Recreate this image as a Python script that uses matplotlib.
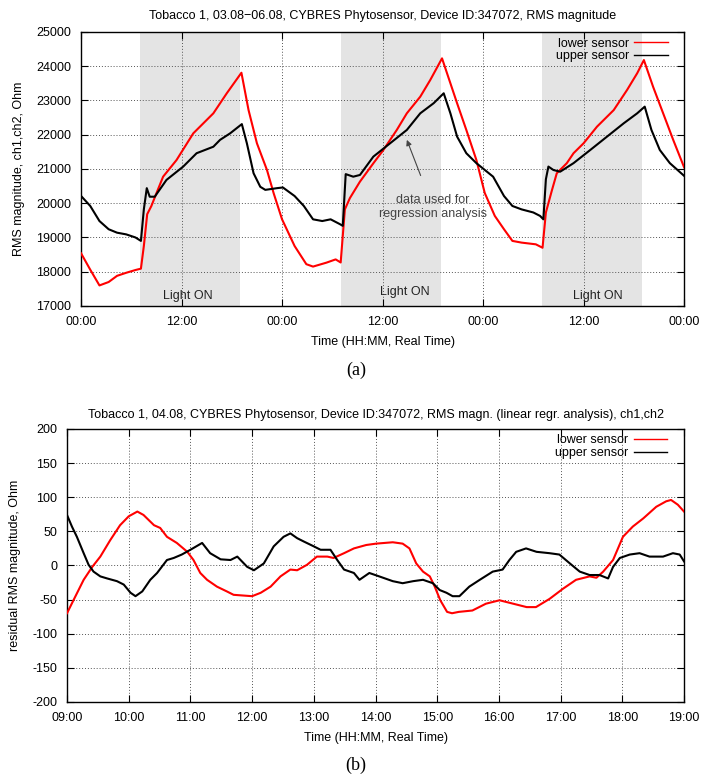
import matplotlib

matplotlib.use("Agg")
import matplotlib.pyplot as plt
from matplotlib.lines import Line2D

plt.rcParams["font.family"] = ["Liberation Sans", "DejaVu Sans"]
plt.rcParams["font.size"] = 9
plt.rcParams["axes.unicode_minus"] = False

# ---- panel (a): 03.08-06.08, hours since 03.08 00:00 ----
lower_t = [0.0, 1.1, 2.2, 3.3, 4.3, 5.4, 6.5, 7.15, 7.5, 7.9, 8.4, 9.0, 9.8,
           11.4, 13.4, 15.8, 17.4, 19.15, 20.0, 21.0, 22.2, 23.0, 24.0, 25.5,
           26.9, 27.7, 29.3, 30.4, 31.0, 31.5, 32.1, 33.3, 34.9, 36.1, 37.7,
           38.9, 40.5, 41.7, 43.1, 44.9, 46.0, 47.2, 48.2, 49.4, 50.5, 51.5,
           52.6, 54.3, 55.1, 55.5, 56.2, 56.8, 58.0, 58.8, 60.0, 61.6, 63.6,
           65.2, 66.4, 67.2, 68.3, 69.5, 70.7, 72.0]
lower_v = [18540, 18060, 17600, 17700, 17880, 17970, 18050, 18090, 18750,
           19680, 19920, 20290, 20775, 21260, 22040, 22625, 23210, 23810,
           22720, 21750, 20970, 20290, 19530, 18750, 18220, 18150, 18265,
           18360, 18270, 19820, 20150, 20630, 21166, 21555, 22140, 22626,
           23110, 23600, 24230, 22918, 22140, 21263, 20300, 19630, 19240,
           18900, 18850, 18800, 18700, 19730, 20360, 20875, 21170, 21460,
           21750, 22235, 22720, 23310, 23795, 24180, 23400, 22625, 21850,
           21050]

upper_t = [0.0, 1.1, 2.2, 3.3, 4.3, 5.4, 6.5, 7.15, 7.5, 7.85, 8.2, 8.8,
           10.2, 12.2, 13.8, 15.8, 16.6, 17.8, 19.2, 19.8, 20.6, 21.4, 22.0,
           23.4, 24.1, 25.5, 26.6, 27.7, 28.8, 29.8, 30.9, 31.25, 31.6, 32.5,
           33.3, 34.9, 36.9, 38.9, 40.5, 42.1, 43.3, 44.1, 44.9, 46.0, 47.2,
           49.2, 50.5, 51.5, 52.6, 54.0, 54.8, 55.2, 55.5, 55.8, 56.4, 57.2,
           58.8, 60.8, 62.8, 64.8, 66.4, 67.3, 68.1, 69.1, 70.3, 72.0]
upper_v = [20213, 19920, 19480, 19240, 19140, 19090, 19000, 18900, 19820,
           20440, 20190, 20190, 20680, 21070, 21460, 21650, 21850, 22040,
           22310, 21750, 20875, 20480, 20390, 20440, 20460, 20210, 19920,
           19530, 19480, 19530, 19390, 19340, 20850, 20775, 20825, 21360,
           21750, 22140, 22625, 22920, 23210, 22625, 21945, 21460, 21170,
           20775, 20210, 19920, 19820, 19730, 19630, 19530, 20700, 21070,
           20970, 20920, 21170, 21555, 21945, 22335, 22625, 22820, 22140,
           21555, 21170, 20800]

light_on = [(7, 19), (31, 43), (55, 67)]
light_label_pos = [(12.8, 17290), (38.7, 17410), (61.7, 17290)]
ticks_a = [0, 12, 24, 36, 48, 60, 72]
ticklabels_a = ["00:00", "12:00", "00:00", "12:00", "00:00", "12:00", "00:00"]

# ---- panel (b): 04.08, hours of the day ----
res_lower_t = [9.0, 9.11, 9.27, 9.41, 9.54, 9.70, 9.86, 10.0, 10.14, 10.24,
               10.41, 10.51, 10.62, 10.78, 10.95, 11.05, 11.16, 11.27, 11.43,
               11.59, 11.70, 12.0, 12.14, 12.30, 12.46, 12.62, 12.73, 12.89,
               13.05, 13.22, 13.32, 13.49, 13.65, 13.85, 14.01, 14.28, 14.44,
               14.55, 14.66, 14.77, 14.88, 14.96, 15.05, 15.16, 15.24, 15.35,
               15.57, 15.79, 16.01, 16.23, 16.45, 16.6, 16.82, 17.04, 17.25,
               17.47, 17.58, 17.69, 17.85, 18.01, 18.17, 18.34, 18.55, 18.71,
               18.79, 18.9, 19.0]
res_lower_v = [-70, -50, -21, -2, 13, 37, 59, 72, 79, 74, 59, 55, 42, 33, 20,
               8, -11, -21, -31, -38, -43, -45, -40, -31, -16, -6, -7, 1, 13,
               13, 11, 18, 25, 30, 32, 34, 32, 25, 3, -9, -16, -31, -51, -68,
               -70, -68, -66, -56, -51, -56, -61, -61, -49, -34, -21, -16, -18,
               -9, 8, 42, 57, 69, 86, 94, 96, 89, 79]

res_upper_t = [9.0, 9.08, 9.16, 9.27, 9.35, 9.43, 9.54, 9.65, 9.81, 9.92,
               10.03, 10.11, 10.22, 10.35, 10.46, 10.62, 10.73, 10.86, 11.0,
               11.19, 11.32, 11.49, 11.65, 11.76, 11.92, 12.03, 12.19, 12.35,
               12.51, 12.62, 12.73, 12.84, 13.0, 13.11, 13.27, 13.38, 13.49,
               13.65, 13.74, 13.9, 14.06, 14.28, 14.44, 14.61, 14.77, 14.93,
               15.04, 15.15, 15.25, 15.36, 15.52, 15.69, 15.9, 16.06, 16.17,
               16.28, 16.44, 16.61, 16.82, 16.98, 17.15, 17.31, 17.47, 17.63,
               17.77, 17.85, 17.96, 18.12, 18.28, 18.44, 18.66, 18.82, 18.93,
               19.0]
res_upper_v = [74, 57, 42, 18, 1, -9, -16, -19, -23, -28, -40, -45, -38, -21,
               -11, 8, 11, 16, 23, 33, 18, 9, 8, 13, -2, -7, 3, 28, 42, 47, 40,
               35, 28, 23, 23, 8, -6, -11, -21, -11, -16, -23, -26, -23, -21,
               -26, -36, -40, -45, -45, -31, -21, -9, -6, 8, 20, 25, 20, 18,
               16, 3, -9, -14, -14, -19, -2, 11, 16, 18, 13, 13, 18, 16, 6]

ticks_b = list(range(9, 20))
ticklabels_b = [f"{h:02d}:00" for h in ticks_b]

RED = "#ff0000"
GRID = dict(color="#555555", linestyle=(0, (1, 2)), linewidth=0.7)


def style_axes(ax):
    ax.grid(True, **GRID)
    ax.tick_params(direction="in", top=True, right=True, length=5, width=0.8,
                   labelsize=9, pad=7)
    for s in ax.spines.values():
        s.set_linewidth(1.0)


def add_legend(ax, top):
    handles = [Line2D([], [], color=RED, lw=1.0, label="lower sensor"),
               Line2D([], [], color="black", lw=1.0, label="upper sensor")]
    ax.legend(handles=handles, loc="upper right", bbox_to_anchor=(0.978, top),
              frameon=False, markerfirst=False, handlelength=2.7,
              handletextpad=0.4, labelspacing=0.05, borderaxespad=0.05,
              borderpad=0.2, fontsize=9)


fig = plt.figure(figsize=(7.12, 7.76), dpi=100)

# panel (a)
ax1 = fig.add_axes([0.1138, 0.6057, 0.847, 0.3531])
for start, end in light_on:
    ax1.axvspan(start, end, color="#e4e4e4", lw=0, zorder=0)
ax1.plot(lower_t, lower_v, color=RED, lw=1.5, zorder=3)
ax1.plot(upper_t, upper_v, color="black", lw=1.5, zorder=3)
for x, y in light_label_pos:
    ax1.text(x, y, "Light ON", ha="center", va="center", fontsize=9,
             color="#222222")
ax1.annotate("data used for\nregression analysis", xy=(38.9, 21850),
             xytext=(42.0, 19890), ha="center", va="center", fontsize=9,
             color="#444444", linespacing=1.25,
             arrowprops=dict(arrowstyle="-|>", color="#444444", lw=0.8,
                             shrinkA=12, shrinkB=0, mutation_scale=8))
ax1.set_xlim(0, 72)
ax1.set_ylim(17000, 25000)
ax1.set_xticks(ticks_a)
ax1.set_xticklabels(ticklabels_a)
ax1.set_yticks(range(17000, 25001, 1000))
style_axes(ax1)
add_legend(ax1, 0.99)
ax1.set_title("Tobacco 1, 03.08\u221206.08, CYBRES Phytosensor, Device ID:347072, "
              "RMS magnitude", fontsize=9, pad=9)
ax1.set_xlabel("Time (HH:MM, Real Time)", fontsize=9, labelpad=6)
ax1.set_ylabel("RMS magnitude, ch1,ch2, Ohm", fontsize=9, labelpad=8)
fig.text(0.5, 1 - 370 / 776, "(a)", ha="center", va="center", fontsize=13,
         family="Liberation Serif")

# panel (b)
ax2 = fig.add_axes([0.0941, 0.0954, 0.8666, 0.3518])
ax2.plot(res_lower_t, res_lower_v, color=RED, lw=1.5, zorder=3)
ax2.plot(res_upper_t, res_upper_v, color="black", lw=1.5, zorder=3)
ax2.set_xlim(9, 19)
ax2.set_ylim(-200, 200)
ax2.set_xticks(ticks_b)
ax2.set_xticklabels(ticklabels_b)
ax2.set_yticks(range(-200, 201, 50))
style_axes(ax2)
add_legend(ax2, 0.992)
ax2.set_title("Tobacco 1, 04.08, CYBRES Phytosensor, Device ID:347072, RMS magn. "
              "(linear regr. analysis), ch1,ch2", fontsize=9, pad=8)
ax2.set_xlabel("Time (HH:MM, Real Time)", fontsize=9, labelpad=6)
ax2.set_ylabel("residual RMS magnitude, Ohm", fontsize=9, labelpad=8)
fig.text(0.5, 1 - 765 / 776, "(b)", ha="center", va="center", fontsize=13,
         family="Liberation Serif")

fig.savefig("out.png", dpi=100)
